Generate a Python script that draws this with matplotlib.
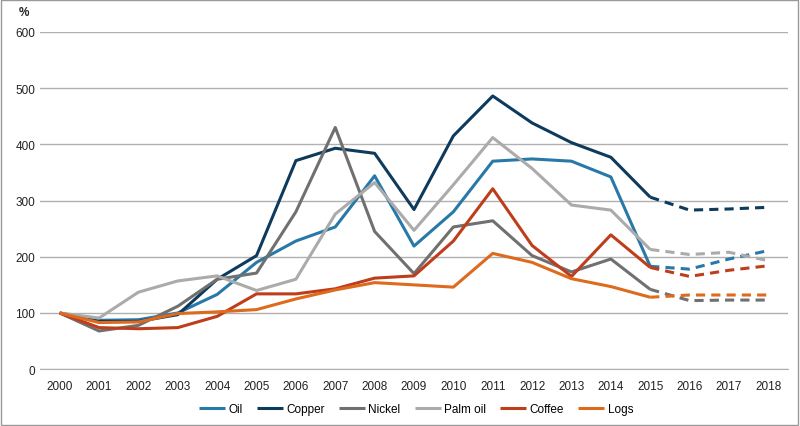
import matplotlib
matplotlib.use("Agg")
import matplotlib.pyplot as plt
from matplotlib.patches import Rectangle

plt.rcParams['font.family'] = ['Liberation Sans', 'DejaVu Sans']

years = list(range(2000, 2019))
oil      = [100, 87, 88, 100, 133, 190, 228, 253, 344, 219, 280, 370, 374, 370, 342, 183, 178, 196, 211]
copper   = [100, 85, 85, 97, 160, 202, 371, 393, 384, 284, 415, 486, 438, 403, 377, 306, 283, 285, 288]
nickel   = [100, 68, 78, 112, 160, 171, 280, 430, 245, 170, 253, 264, 202, 173, 196, 142, 122, 123, 123]
palm_oil = [100, 91, 137, 157, 166, 140, 160, 276, 332, 247, 328, 412, 357, 292, 283, 213, 204, 208, 193]
coffee   = [100, 74, 72, 74, 94, 134, 134, 143, 162, 166, 228, 321, 220, 165, 239, 181, 165, 176, 184]
logs     = [100, 83, 84, 99, 102, 106, 125, 141, 154, 150, 146, 206, 190, 161, 147, 128, 132, 132, 132]

names = ['Oil', 'Copper', 'Nickel', 'Palm oil', 'Coffee', 'Logs']
series = [oil, copper, nickel, palm_oil, coffee, logs]
colors = ['#2878A8', '#0E3A5C', '#707070', '#ABABAB', '#BE3E1C', '#DE6A1E']
split_year = 2015

fig = plt.figure(figsize=(8, 4.27), dpi=100)
ax = fig.add_axes([0.05, 0.133, 0.935, 0.79])
idx = years.index(split_year)
for name, vals, c in zip(names, series, colors):
    ax.plot(years[:idx + 1], vals[:idx + 1], color=c, lw=2.2, label=name, solid_capstyle='butt')
    ax.plot(years[idx:], vals[idx:], color=c, lw=2.2, ls=(0, (3, 2)))

ax.set_ylim(0, 600)
ax.set_xlim(1999.5, 2018.5)
ax.set_yticks(range(0, 601, 100))
ax.set_xticks(years)
ax.tick_params(length=0, labelsize=8.5, colors='#222222')
ax.tick_params(axis='x', pad=8)
ax.grid(axis='y', color='#B0B0B0', lw=1)
ax.set_axisbelow(True)
for s in ['top', 'right', 'left']:
    ax.spines[s].set_visible(False)
ax.spines['bottom'].set_color('#B0B0B0')
ax.text(-0.022, 1.04, '%', transform=ax.transAxes, fontsize=8.5, fontweight='bold',
        ha='center', va='bottom', color='#222222')

fig.legend(loc='lower center', ncol=6, frameon=False, fontsize=8.5,
           bbox_to_anchor=(0.52, 0.0), handlelength=2.2, columnspacing=1.2, handletextpad=0.3)

fig.patches.append(Rectangle((0.001, 0.002), 0.997, 0.995, transform=fig.transFigure,
                             fill=False, edgecolor='#999999', lw=1))
fig.savefig('out.png', dpi=100)
